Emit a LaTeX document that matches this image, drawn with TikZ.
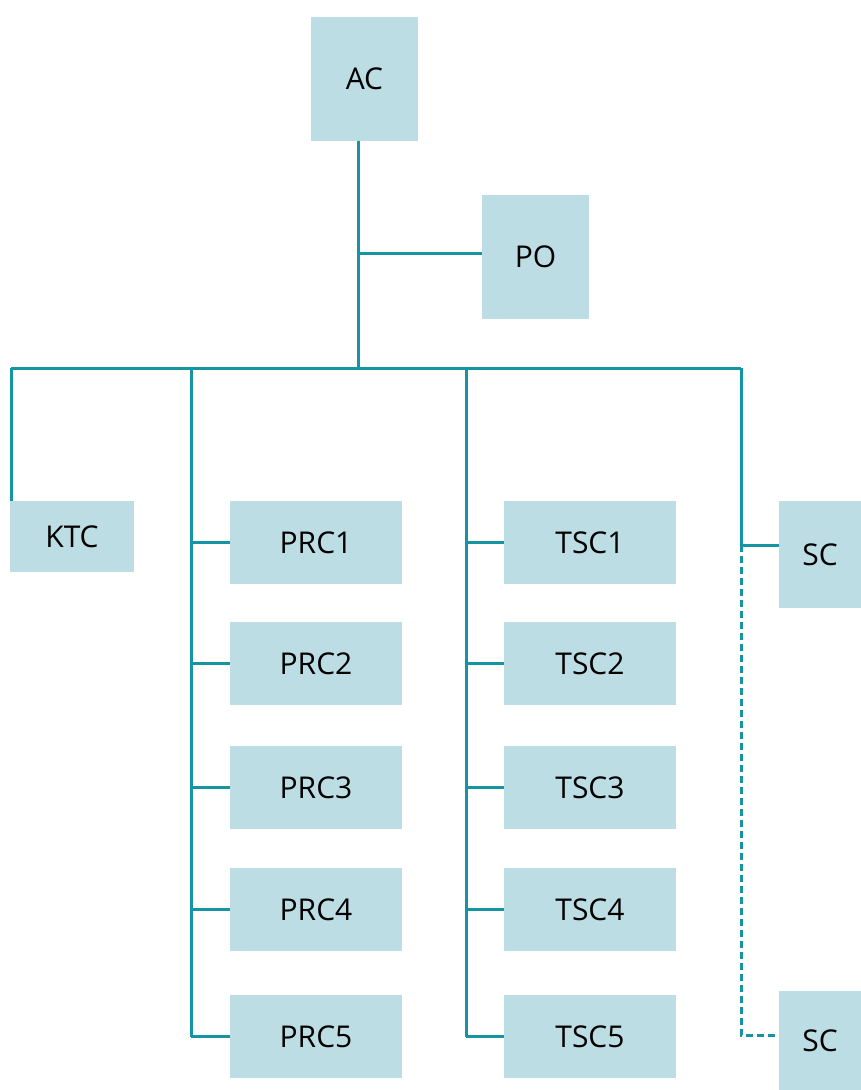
\documentclass[tikz,border=0pt]{standalone}
\usepackage{fontspec}
\setmainfont{Open Sans}
\definecolor{boxfill}{HTML}{BCDDE3}
\definecolor{linecol}{HTML}{1595A3}
\begin{document}
\begin{tikzpicture}[x=1pt,y=-1pt,
  box/.style={fill=boxfill,draw=none,inner sep=0pt,font=\fontsize{30}{32}\selectfont,text=black},
  conn/.style={draw=linecol,line width=3pt},
  dconn/.style={draw=linecol,line width=3pt,dash pattern=on 7pt off 4pt}]
\useasboundingbox (0,0) rectangle (861,1090);
\node[box,minimum width=107pt,minimum height=124pt] (AC) at (364.5,79) {AC};
\node[box,minimum width=107pt,minimum height=124pt] (PO) at (535.5,257) {PO};
\node[box,minimum width=124pt,minimum height=71pt] (KTC) at (72,536.5) {KTC};
\foreach \i/\y in {1/542.5,2/663.5,3/787.5,4/909.5,5/1036.5}{
  \node[box,minimum width=172pt,minimum height=83pt] (PRC\i) at (316,\y) {PRC\i};
  \node[box,minimum width=172pt,minimum height=83pt] (TSC\i) at (590,\y) {TSC\i};
}
\node[box,minimum width=82pt,minimum height=107pt] (SCa) at (820,554.5) {SC};
\node[box,minimum width=82pt,minimum height=99pt] (SCb) at (820,1040.5) {SC};
% coordinates
\coordinate (J) at (358,368);
\coordinate (Jpo) at (358,253);
\coordinate (BL) at (11,368);
\coordinate (BP) at (191,368);
\coordinate (BT) at (466,368);
\coordinate (BR) at (741,368);
\coordinate (SCaj) at (741,545);
\coordinate (SCbj) at (741,1035);
% trunk
\draw[conn] (AC.south -| J) -- (J);
\draw[conn] (Jpo) -- (PO.west |- Jpo);
\draw[conn] (BL) -- (BR);
\draw[conn] (BL) -- (BL |- KTC.north);
\draw[conn] (BP) -- (BP |- PRC5.west);
\draw[conn] (BT) -- (BT |- TSC5.west);
\foreach \i in {1,...,5}{
  \draw[conn] (BP |- PRC\i.west) -- (PRC\i.west);
  \draw[conn] (BT |- TSC\i.west) -- (TSC\i.west);
}
\draw[conn] (BR) -- (SCaj) -- (SCa.west |- SCaj);
\draw[dconn] (SCaj) -- (SCbj) -- (SCb.west |- SCbj);
\end{tikzpicture}
\end{document}
